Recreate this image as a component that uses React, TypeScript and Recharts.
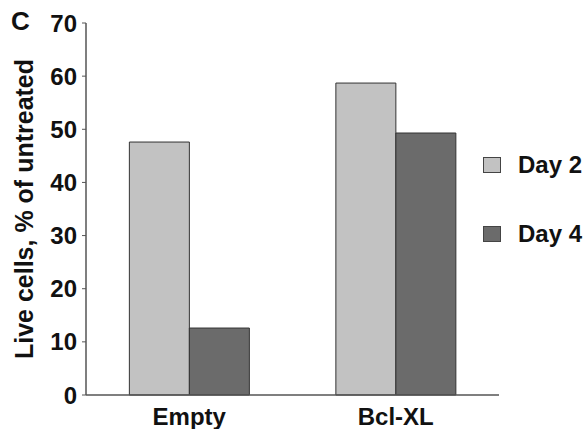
import { Bar, BarChart, XAxis, YAxis } from "recharts";

const groups = ["Empty", "Bcl-XL"];
const day2 = [47.6, 58.7];
const day4 = [12.6, 49.3];
const yTicks = [0, 10, 20, 30, 40, 50, 60, 70];
// group boundaries along the x axis (small down ticks between/after groups)
const edgeTicks = [1, 2];

const data = groups.map((g, i) => ({ group: g, day2: day2[i], day4: day4[i] }));

const font = "'Liberation Sans', Arial, sans-serif";
const fill2 = "#c2c2c2";
const fill4 = "#6b6b6b";

const legendItems = [
  { label: "Day 2", color: fill2 },
  { label: "Day 4", color: fill4 },
];

// Legend sits to the right of the plot, outside Recharts so it doesn't shrink the plot area.
function SideLegend() {
  return (
    <div style={{ position: "absolute", left: 483, top: 150, fontFamily: font }}>
      {legendItems.map((it, i) => (
        <div key={it.label} style={{ display: "flex", alignItems: "center", height: 30, marginBottom: i === 0 ? 39 : 0 }}>
          <span style={{ width: 18, height: 16, background: it.color, border: "1px solid #444", boxSizing: "border-box" }} />
          <span style={{ marginLeft: 17, fontSize: 24, fontWeight: 700, color: "#111" }}>{it.label}</span>
        </div>
      ))}
    </div>
  );
}

export default function App() {
  return (
    <div style={{ position: "fixed", left: 0, top: 0, width: 586, height: 429, background: "#fff" }}>
      <span style={{ position: "absolute", left: 11, top: 8, lineHeight: 1, fontFamily: font, fontSize: 26, fontWeight: 700, color: "#111" }}>C</span>
      <BarChart
        width={586}
        height={429}
        data={data}
        margin={{ top: 23, right: 87, bottom: 0, left: 0 }}
        barGap={0}
        barCategoryGap="21%"
      >
        <XAxis
          xAxisId="edge"
          type="number"
          domain={[0, 2]}
          ticks={edgeTicks}
          height={0}
          tick={false}
          axisLine={false}
          tickSize={3}
          tickLine={{ stroke: "#555" }}
        />
        <XAxis
          dataKey="group"
          height={34}
          tickLine={false}
          tickSize={0}
          tickMargin={13}
          axisLine={{ stroke: "#555", strokeWidth: 1.5 }}
          tick={{ fill: "#111", fontSize: 24, fontWeight: 700, fontFamily: font }}
        />
        <YAxis
          width={86}
          domain={[0, 70]}
          ticks={yTicks}
          interval={0}
          tickSize={4}
          tickMargin={5}
          axisLine={{ stroke: "#555", strokeWidth: 1.5 }}
          tickLine={{ stroke: "#555" }}
          tick={{ fill: "#111", fontSize: 24, fontWeight: 700, fontFamily: font }}
          label={{
            value: "Live cells, % of untreated",
            angle: -90,
            position: "insideLeft",
            offset: 24,
            style: { textAnchor: "middle", fill: "#111", fontSize: 25, fontWeight: 700, fontFamily: font },
          }}
        />
        <Bar dataKey="day2" name="Day 2" fill={fill2} stroke="#333" strokeWidth={1} isAnimationActive={false} />
        <Bar dataKey="day4" name="Day 4" fill={fill4} stroke="#333" strokeWidth={1} isAnimationActive={false} />
      </BarChart>
      <SideLegend />
    </div>
  );
}
